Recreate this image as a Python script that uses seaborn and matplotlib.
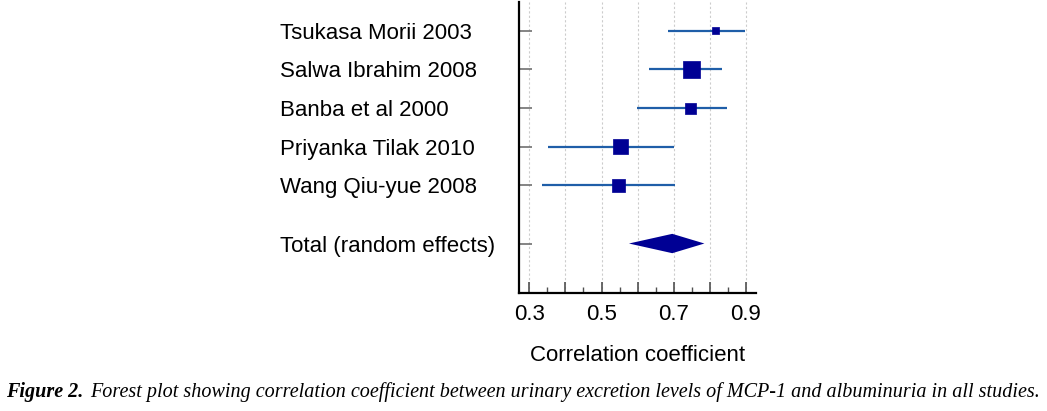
import matplotlib
matplotlib.use("Agg")
import matplotlib.pyplot as plt
import matplotlib.ticker as mticker
import seaborn as sns
import pandas as pd
import numpy as np

# ── Data ──────────────────────────────────────────────────────────────────────
studies = ["Tsukasa Morii 2003", "Salwa Ibrahim 2008", "Banba et al 2000",
           "Priyanka Tilak 2010", "Wang Qiu-yue 2008"]
estimate = [0.817, 0.750, 0.746, 0.552, 0.547]
ci_low = [0.683, 0.632, 0.598, 0.353, 0.336]
ci_high = [0.898, 0.835, 0.847, 0.702, 0.704]
weight = [5.9, 34.6, 14.5, 25.8, 19.3]  # % (relative, from square area)

total_label = "Total (random effects)"
total_est = 0.696
total_low = 0.576
total_high = 0.785

xtick_labels = ["0.3", "0.5", "0.7", "0.9"]

# ── Style ─────────────────────────────────────────────────────────────────────
sns.set_style("white")
plt.rcParams.update({
    "font.family": ["Liberation Sans", "DejaVu Sans"],
    "text.color": "black",
    "axes.labelcolor": "black",
    "xtick.color": "black",
    "ytick.color": "black",
})

NAVY = "#000094"
LINE = "#1f5ea8"
GRID = "#cccccc"
FS = 16

df = pd.DataFrame({"study": studies, "est": estimate, "lo": ci_low,
                   "hi": ci_high, "w": weight})
df["ypos"] = np.arange(1, len(df) + 1)
total_y = len(df) + 1.5

fig = plt.figure(figsize=(10.47, 4.11), dpi=100)
ax = fig.add_axes([0.4957, 0.287, 0.2264, 0.708])

# vertical dotted grid
for gx in np.arange(0.3, 0.91, 0.1):
    ax.axvline(gx, color=GRID, lw=0.8, ls=(0, (2, 2)), zorder=0)

# CI lines
ax.hlines(df["ypos"], df["lo"], df["hi"], color=LINE, lw=1.6, zorder=2)

# squares (area ~ weight)
sns.scatterplot(data=df, x="est", y="ypos", size="w", sizes=(25, 150),
                marker="s", color=NAVY, edgecolor=NAVY, linewidth=0.5,
                legend=False, ax=ax, zorder=3)

# pooled diamond
h = 0.25
ax.fill([total_low, total_est, total_high, total_est],
        [total_y, total_y - h, total_y, total_y + h],
        color=NAVY, lw=0, zorder=3)

# axes
ax.set_xlim(0.2715, 0.928)
ax.set_ylim(7.78, 0.26)
ax.set_yticks(list(df["ypos"]) + [total_y])
ax.set_yticklabels(studies + [total_label], ha="left", fontsize=FS)
ax.tick_params(axis="y", left=True, direction="in", length=9, width=1.2,
               color="#707070", pad=172)

ax.set_xticks([0.3, 0.4, 0.5, 0.6, 0.7, 0.8, 0.9])
ax.xaxis.set_minor_locator(mticker.FixedLocator([0.35, 0.45, 0.55, 0.65, 0.75, 0.85]))
ax.set_xticklabels([xtick_labels[i // 2] if i % 2 == 0 else "" for i in range(7)],
                   fontsize=FS)
ax.tick_params(axis="x", which="major", bottom=True, direction="in", length=8,
               width=1.2, color="#505050", pad=8)
ax.tick_params(axis="x", which="minor", bottom=True, direction="in", length=4,
               width=1, color="#505050")
ax.set_xlabel("Correlation coefficient", fontsize=FS, labelpad=14)
ax.set_ylabel("")

for s in ["top", "right"]:
    ax.spines[s].set_visible(False)
for s in ["left", "bottom"]:
    ax.spines[s].set_color("black")
    ax.spines[s].set_linewidth(1.6)

fig.text(0.006, 0.033, "Figure 2.", fontsize=14.5, fontweight="bold",
         fontstyle="italic", family="Liberation Serif", ha="left")
fig.text(0.086, 0.033,
         "Forest plot showing correlation coefficient between urinary excretion "
         "levels of MCP-1 and albuminuria in all studies.",
         fontsize=14.5, fontstyle="italic", family="Liberation Serif", ha="left")

fig.savefig("out.png", dpi=100)
